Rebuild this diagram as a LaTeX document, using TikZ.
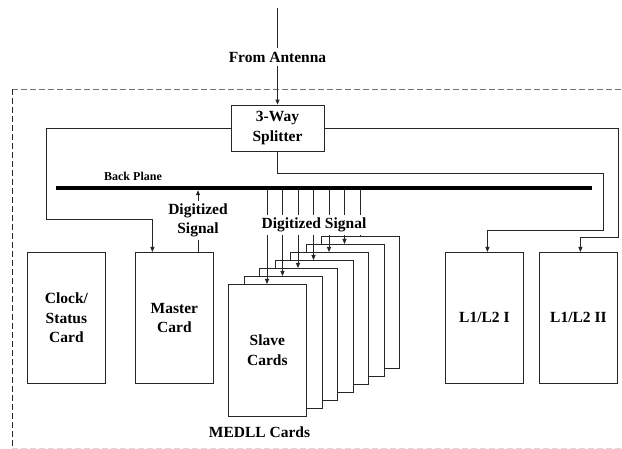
\documentclass[tikz,border=0pt]{standalone}
\usepackage{fontspec}
\setmainfont{Liberation Serif}
\usetikzlibrary{arrows.meta,calc}
\begin{document}
\begin{tikzpicture}[x=1pt,y=-1pt,
  ln/.style={line width=0.8pt, draw=black!85},
  arr/.style={ln,-{Triangle[length=5pt,width=4pt]}},
  lbl/.style={font=\fontsize{15.5}{19.5}\selectfont\bfseries, align=center, inner sep=1pt},
  box/.style={draw=black!85, line width=0.8pt, fill=white, minimum width=78pt, minimum height=131pt, inner sep=0pt, anchor=north west, lbl},
  dsh/.style={line width=0.8pt, dash pattern=on 6pt off 3pt},
]
\useasboundingbox (0,0) rectangle (622,449);
% dashed enclosure
\draw[dsh, draw=black!55] (12,89.5) -- (622,89.5);
\draw[dsh, draw=black!85] (12,89.5) -- (12,449);
\draw[dsh, draw=black!15] (12,448) -- (622,448);

% splitter and antenna
\node[box, anchor=center, minimum width=93pt, minimum height=46pt] (split) at (277.5,128) {3-Way\\Splitter};
\coordinate (ant) at (277.5,8);
\draw[arr] (ant) -- (split.north);
\node[lbl, fill=white, inner ysep=4pt] (fa) at (277.5,57) {From Antenna};

% back plane
\node[fill=black, minimum width=536pt, minimum height=4pt, inner sep=0pt] (bp) at (324,188) {};
\node[font=\fontsize{12}{14}\selectfont\bfseries, inner sep=0pt] (bpl) at (133,176) {Back Plane};

% cards
\node[box] (clock) at (27,252) {Clock/\\Status\\Card};
\node[box] (master) at (135,252) {Master\\Card};
\node[box] (l1) at (445,252) {L1/L2 I};
\node[box] (l2) at (539,252) {L1/L2 II};

\foreach \i in {6,5,...,1} {
  \node[box, minimum height=132pt] (card\i) at ({228+15.5*\i},{284-8*\i}) {};
}
\node[box, minimum height=132pt] (card0) at (228,284) {Slave\\Cards};
\node[lbl] (medll) at (259.5,432) {MEDLL Cards};

% splitter connections
\draw[arr] (split.west) -| (46,219) -| ($(master.north)+(-22,0)$);
\draw[arr] (split.east) -| (618,237) -| ($(l2.north)+(2,0)$);
\draw[arr] (split.south) |- (603,173) -- (603,230) -| ($(l1.north)+(3,0)$);

% master digitized signal
\coordinate (m) at ($(master.north west)+(63,0)$);
\draw[arr] (m) -- (m |- bp.south);
\node[lbl, fill=white, inner ysep=3pt] (dsm) at (198,220.5) {Digitized\\Signal};

% slave digitized signals
\foreach \i in {0,...,5} {
  \coordinate (t\i) at ($(card\i.north west)+(39,0)$);
  \draw[arr] (t\i |- bp.south) -- (t\i);
}
\coordinate (t6) at ($(card6.north west)+(39,0)$);
\draw[ln] (t6 |- bp.south) -- (t6);
\node[lbl, fill=white, inner ysep=3pt] (dss) at (314,225) {Digitized Signal};
\end{tikzpicture}
\end{document}
